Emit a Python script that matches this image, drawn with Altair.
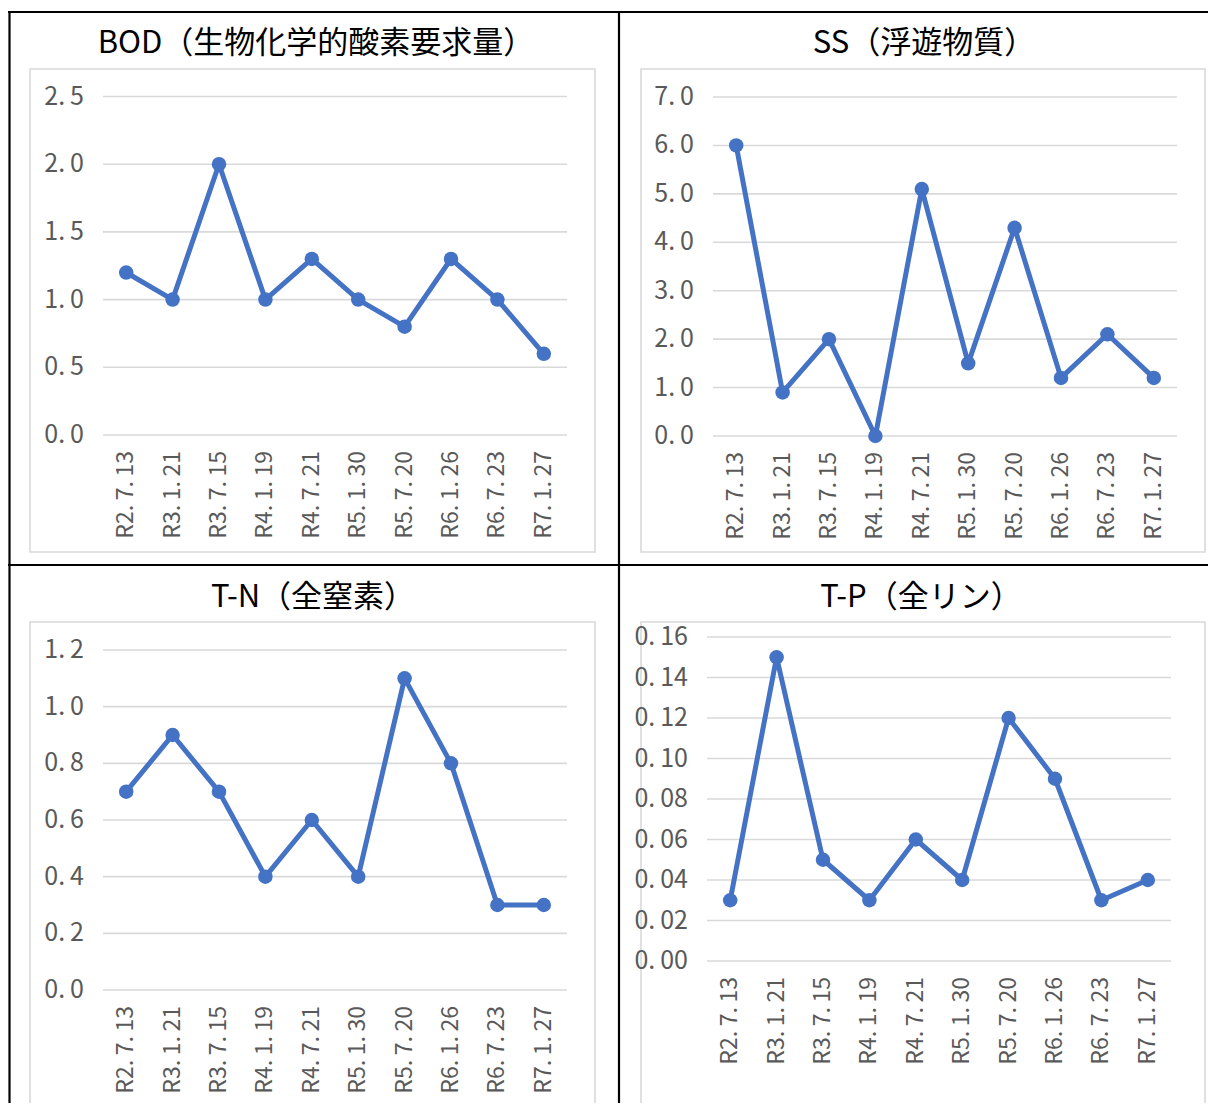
import altair as alt
import pandas as pd

# ---------------- data ----------------
dates = ["R2.7.13", "R3.1.21", "R3.7.15", "R4.1.19", "R4.7.21",
         "R5.1.30", "R5.7.20", "R6.1.26", "R6.7.23", "R7.1.27"]

bod_values = [1.2, 1.0, 2.0, 1.0, 1.3, 1.0, 0.8, 1.3, 1.0, 0.6]
ss_values = [6.0, 0.9, 2.0, 0.0, 5.1, 1.5, 4.3, 1.2, 2.1, 1.2]
tn_values = [0.7, 0.9, 0.7, 0.4, 0.6, 0.4, 1.1, 0.8, 0.3, 0.3]
tp_values = [0.03, 0.15, 0.05, 0.03, 0.06, 0.04, 0.12, 0.09, 0.03, 0.04]

bod_ticks = [0.0, 0.5, 1.0, 1.5, 2.0, 2.5]
ss_ticks = [0.0, 1.0, 2.0, 3.0, 4.0, 5.0, 6.0, 7.0]
tn_ticks = [0.0, 0.2, 0.4, 0.6, 0.8, 1.0, 1.2]
tp_ticks = [0.00, 0.02, 0.04, 0.06, 0.08, 0.10, 0.12, 0.14, 0.16]

titles = ["BOD（生物化学的酸素要求量）", "SS（浮遊物質）", "T-N（全窒素）", "T-P（全リン）"]

# ---------------- styling / layout ----------------
M = 8  # page margin
FONT = "Noto Sans CJK JP, sans-serif"
BLUE = "#4472C4"
GRID = "#D9D9D9"
LABEL = "#595959"
SP = "\u2009"  # thin space after the period, like the reference's half-width period cell

panels = [
    dict(title=titles[0], values=bod_values, ticks=bod_ticks, fmt=".1f",
         x0=103, x1=567, yb=435, yt=96.5, box=(30, 69, 595, 552), tx=316, ty=44),
    dict(title=titles[1], values=ss_values, ticks=ss_ticks, fmt=".1f",
         x0=713, x1=1177, yb=436, yt=97, box=(641, 69, 1205, 552), tx=924, ty=44),
    dict(title=titles[2], values=tn_values, ticks=tn_ticks, fmt=".1f",
         x0=103, x1=567, yb=990, yt=650, box=(30, 622, 595, 1104), tx=313, ty=598),
    dict(title=titles[3], values=tp_values, ticks=tp_ticks, fmt=".2f",
         x0=707, x1=1171, yb=961, yt=637, box=(641, 622, 1205, 1104), tx=921, ty=598),
]

dummy = pd.DataFrame({"a": [0]})
layers = []

# table borders (black)
def hline(y, xa, xb, w=2.2):
    return alt.Chart(dummy).mark_rule(color="#000", strokeWidth=w).encode(
        x=alt.value(xa - M), x2=alt.value(xb - M), y=alt.value(y - M))

def vline(x, ya, yb, w=2.2):
    return alt.Chart(dummy).mark_rule(color="#000", strokeWidth=w).encode(
        x=alt.value(x - M), y=alt.value(ya - M), y2=alt.value(yb - M))

layers += [hline(12, 8, 1216), hline(565, 8, 1216),
           vline(9.5, 11, 1111), vline(619, 11, 1111)]

for p in panels:
    df = pd.DataFrame({"cat": dates, "v": p["values"]})
    tdf = pd.DataFrame({"t": p["ticks"]})
    xs = alt.Scale(type="point", domain=dates, range=[p["x0"] - M, p["x1"] - M], padding=0.5)
    ys = alt.Scale(domain=[p["ticks"][0], p["ticks"][-1]],
                   range=[p["yb"] - M, p["yt"] - M], nice=False, zero=False)
    bx0, by0, bx1, by1 = p["box"]

    # chart-area box
    layers.append(
        alt.Chart(dummy).mark_rect(fill="white", stroke=GRID, strokeWidth=1.6).encode(
            x=alt.value(bx0 - M), x2=alt.value(bx1 - M),
            y=alt.value(by0 - M), y2=alt.value(by1 - M)))
    # title
    layers.append(
        alt.Chart(pd.DataFrame({"title": [p["title"]]})).mark_text(
            font=FONT, fontSize=31, color="#000", align="center", baseline="middle"
        ).encode(text="title:N", x=alt.value(p["tx"] - M), y=alt.value(p["ty"] - M)))
    # grid lines
    layers.append(
        alt.Chart(tdf).mark_rule(color=GRID, strokeWidth=1.6).encode(
            y=alt.Y("t:Q", scale=ys, axis=None),
            x=alt.value(p["x0"] - M), x2=alt.value(p["x1"] - M)))
    # y tick labels
    layers.append(
        alt.Chart(tdf).transform_calculate(
            lab=f"replace(format(datum.t, '{p['fmt']}'), regexp('[.]', 'g'), '.{SP}')"
        ).mark_text(font=FONT, fontSize=25, color=LABEL, align="right", baseline="middle").encode(
            y=alt.Y("t:Q", scale=ys, axis=None), x=alt.value(p["x0"] - 19 - M), text="lab:N"))
    # x tick labels
    layers.append(
        alt.Chart(df).transform_calculate(
            lab=f"replace(datum.cat, regexp('[.]', 'g'), '.{SP}')"
        ).mark_text(font=FONT, fontSize=23, color=LABEL, align="right", baseline="middle",
                    angle=270).encode(
            x=alt.X("cat:N", scale=xs, axis=None), y=alt.value(p["yb"] + 16 - M), text="lab:N"))
    # line
    layers.append(
        alt.Chart(df).mark_line(color=BLUE, strokeWidth=5, strokeJoin="round").encode(
            x=alt.X("cat:N", scale=xs, axis=None, sort=dates),
            y=alt.Y("v:Q", scale=ys, axis=None)))
    # points
    layers.append(
        alt.Chart(df).mark_circle(color=BLUE, size=210, opacity=1).encode(
            x=alt.X("cat:N", scale=xs, axis=None, sort=dates),
            y=alt.Y("v:Q", scale=ys, axis=None)))

chart = alt.layer(*layers).resolve_scale(x="independent", y="independent").properties(
    width=1200, height=1095, padding=0, autosize="none", background="white"
).configure_view(stroke=None)

chart.save("out.html", embed_options={"renderer": "svg", "actions": False})
